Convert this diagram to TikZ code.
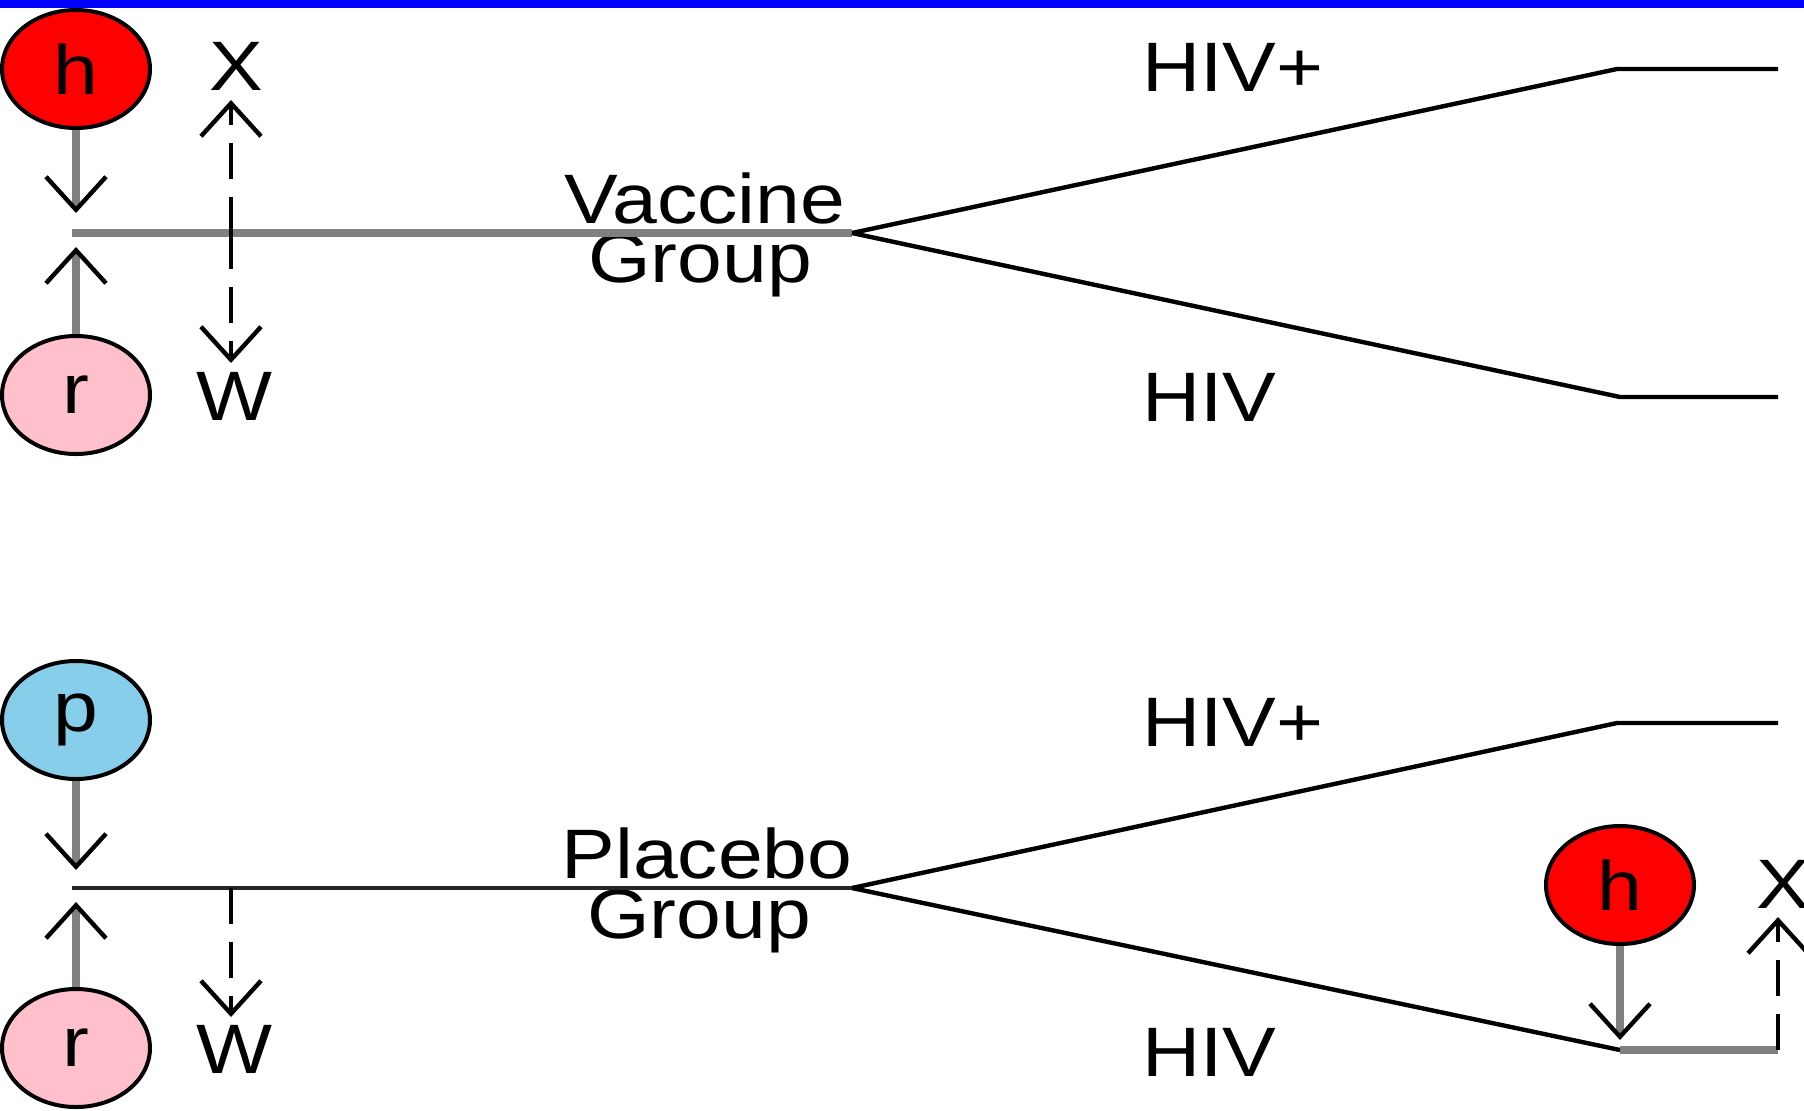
\documentclass[tikz,border=0pt]{standalone}
\usepackage{fontspec}
\setmainfont{Liberation Sans}
\usetikzlibrary{arrows.meta,shapes.geometric}
\newcommand\wt[1]{\scalebox{1.15}[1]{#1}}
\definecolor{pinkr}{HTML}{FFC0CB}
\definecolor{skyb}{HTML}{87CEEB}
\definecolor{shaftgray}{HTML}{808080}
\begin{document}
\begin{tikzpicture}[x=0.5pt,y=-0.5pt,
  vtip/.tip={Straight Barb[length=16.5pt,width=30pt,line width=2.2pt,color=black]},
  ell/.style={ellipse,draw=black,line width=2pt,minimum width=74pt,minimum height=59pt,inner sep=0pt,font=\fontsize{35}{40}\selectfont},
  lbl/.style={inner sep=0pt,anchor=base,font=\fontsize{35}{40}\selectfont},
  lblw/.style={inner sep=0pt,anchor=base west,font=\fontsize{35}{40}\selectfont},
  shaft/.style={draw=shaftgray,line width=4pt,-vtip},
  dshaft/.style={draw=black,line width=2.4pt,dash pattern=on 18pt off 9pt,-vtip},
  thick gray/.style={draw=shaftgray,line width=4pt},
  thinline/.style={draw=black,line width=2.2pt,line join=round},
]
\useasboundingbox (0,0) rectangle (1804,1110);
\clip (0,0) rectangle (1804,1110);
\fill[white] (0,0) rectangle (1804,1110);
\fill[blue] (0,0) rectangle (1804,8);

% ---------- Vaccine section ----------
\node[ell,fill=red] (h1) at (76,69) {\wt{h}};
\node[ell,fill=pinkr] (r1) at (76,395) {\wt{r}};
\node[lbl] (X1) at (236,90) {\wt{X}};
\node[lbl] (W1) at (234,420) {\wt{W}};
\node[lbl] (vac1) at (705,223) {\wt{Vaccine}};
\node[lbl] (vac2) at (700,282) {\wt{Group}};
\node[lblw] (hp1) at (1142,91) {\wt{HIV+}};
\node[lblw] (hm1) at (1142,421) {\wt{HIV}};

\coordinate (vs) at (72,233);
\coordinate (vb) at (852,233);
\coordinate (vu) at (1617,69);
\coordinate (vue) at (1778,69);
\coordinate (vl) at (1620,397);
\coordinate (vle) at (1778,397);
\coordinate (ht1) at (76,213);
\coordinate (rt1) at (76,247);
\coordinate (dj1) at (231,233);
\coordinate (xt1) at (231,100);
\coordinate (wt1) at (231,363);

\draw[thick gray] (vs) -- (vb);
\draw[thinline] (vb) -- (vu) -- (vue);
\draw[thinline] (vb) -- (vl) -- (vle);
\draw[shaft] (h1.south) -- (ht1);
\draw[shaft] (r1.north) -- (rt1);
\draw[dshaft] (dj1) -- (xt1);
\draw[dshaft] (dj1) -- (wt1);

% ---------- Placebo section ----------
\node[ell,fill=skyb] (p2) at (76,720) {\wt{p}};
\node[ell,fill=pinkr] (r2) at (76,1048) {\wt{r}};
\node[lbl] (W2) at (234,1073) {\wt{W}};
\node[lbl] (pl1) at (707,878) {\wt{Placebo}};
\node[lbl] (pl2) at (699,938) {\wt{Group}};
\node[lblw] (hp2) at (1142,746) {\wt{HIV+}};
\node[lblw] (hm2) at (1142,1076) {\wt{HIV}};
\node[ell,fill=red] (h3) at (1620,885) {\wt{h}};
\node[lbl] (X3) at (1783,908) {\wt{X}};

\coordinate (ps) at (72,888);
\coordinate (pb) at (852,888);
\coordinate (pu) at (1617,723);
\coordinate (pue) at (1778,723);
\coordinate (pl) at (1620,1050);
\coordinate (ple) at (1778,1050);
\coordinate (pt2) at (76,870);
\coordinate (rt2) at (76,902);
\coordinate (dj2) at (231,888);
\coordinate (wt2) at (231,1017);
\coordinate (ht3) at (1620,1040);
\coordinate (xt3) at (1778,917);

\draw[draw=black!85,line width=2.4pt] (ps) -- (pb);
\draw[thinline] (pb) -- (pu) -- (pue);
\draw[thinline] (pb) -- (pl);
\draw[thick gray] (pl) -- (ple);
\draw[shaft] (p2.south) -- (pt2);
\draw[shaft] (r2.north) -- (rt2);
\draw[dshaft] (dj2) -- (wt2);
\draw[shaft] (h3.south) -- (ht3);
\draw[dshaft] (ple) -- (xt3);
\end{tikzpicture}
\end{document}
